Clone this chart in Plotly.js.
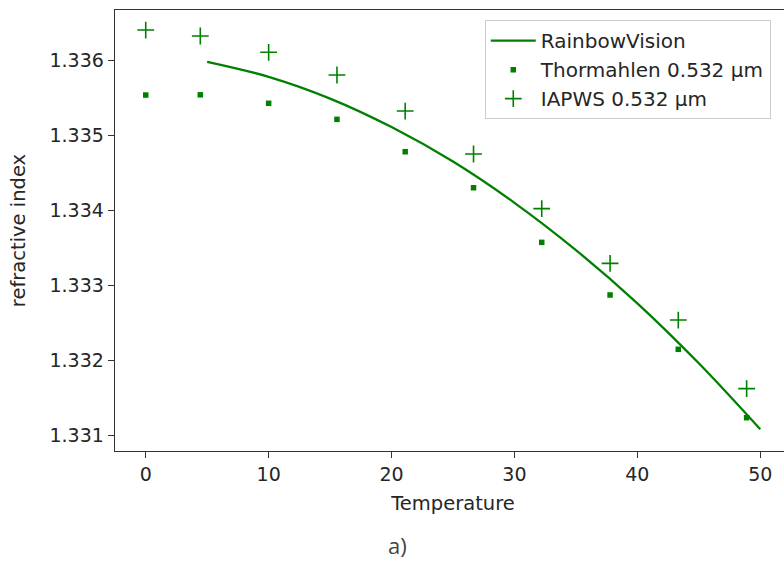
<!DOCTYPE html>
<html>
<head>
<meta charset="utf-8">
<script src="https://cdn.plot.ly/plotly-3.0.1.min.js"></script>
<style>
html, body { margin: 0; padding: 0; overflow: hidden; background: #fff; }
#chart { width: 800px; height: 561px; }
</style>
</head>
<body>
<div id="chart"></div>
<script>
// Temperatures (deg C)
const tempsData = [0, 4.44, 10, 15.56, 21.11, 26.67, 32.22, 37.78, 43.33, 48.89];
const thormahlen = [1.335537, 1.335540, 1.335427, 1.335213, 1.334781, 1.334301, 1.333573, 1.332871, 1.332147, 1.331235];
const iapws = [1.336404, 1.336324, 1.336107, 1.335804, 1.335324, 1.334751, 1.334023, 1.333293, 1.332537, 1.331623];
// RainbowVision curve, read at these temperatures
const tempsCurve = [5, 10, 15, 20, 25, 30, 35, 40, 45, 50];
const rainbow = [1.33598, 1.33578, 1.33549, 1.33511, 1.33465, 1.33410, 1.33347, 1.33276, 1.33196, 1.33108];
const yTicks = [1.331, 1.332, 1.333, 1.334, 1.335, 1.336];
const xTicks = [0, 10, 20, 30, 40, 50];

const green = '#008000';
const fontFam = '"DejaVu Sans", sans-serif';

const traces = [
  { x: tempsCurve, y: rainbow, type: 'scatter', mode: 'lines', name: 'RainbowVision',
    line: { color: green, width: 2.3, shape: 'spline' } },
  { x: tempsData, y: thormahlen, type: 'scatter', mode: 'markers', name: 'Thormahlen 0.532 µm',
    marker: { symbol: 'square', size: 5.5, color: green } },
  { x: tempsData, y: iapws, type: 'scatter', mode: 'markers', name: 'IAPWS 0.532 µm',
    marker: { symbol: 'cross-thin', size: 12, color: green, line: { color: green, width: 1.6 } } }
];

const layout = {
  width: 800, height: 561,
  margin: { l: 115, r: 9, t: 10, b: 110 },
  paper_bgcolor: '#fff', plot_bgcolor: '#fff',
  font: { family: fontFam, size: 19, color: '#262626' },
  showlegend: true,
  legend: {
    x: 0.547, y: 0.977, xanchor: 'left', yanchor: 'top',
    bgcolor: 'rgba(255,255,255,0.8)', bordercolor: '#cccccc', borderwidth: 1,
    font: { family: fontFam, size: 20, color: '#262626' },
    itemwidth: 45, tracegroupgap: 0
  },
  xaxis: {
    range: [-2.5, 52.5], tickvals: xTicks, ticktext: xTicks.map(String),
    showgrid: false, zeroline: false, showline: true, linecolor: '#333', linewidth: 1.3, mirror: true,
    ticks: 'outside', ticklen: 6, tickwidth: 1.3, tickcolor: '#333',
    tickfont: { family: fontFam, size: 19, color: '#262626' },
    title: { text: 'Temperature', font: { family: fontFam, size: 19.5, color: '#262626' }, standoff: 12 }
  },
  yaxis: {
    range: [1.330791, 1.336671], tickvals: yTicks, ticktext: yTicks.map(v => v.toFixed(3)),
    showgrid: false, zeroline: false, showline: true, linecolor: '#333', linewidth: 1.3, mirror: true,
    ticks: 'outside', ticklen: 6, tickwidth: 1.3, tickcolor: '#333',
    tickfont: { family: fontFam, size: 19, color: '#262626' },
    title: { text: 'refractive index', font: { family: fontFam, size: 19.5, color: '#262626' }, standoff: 18 }
  },
  annotations: [
    { text: 'a)', xref: 'paper', yref: 'paper', x: 0.4186, y: -0.214, xanchor: 'center', yanchor: 'middle',
      showarrow: false, borderpad: 0, font: { family: '"Open Sans", sans-serif', size: 22, color: '#444' } }
  ]
};

Plotly.newPlot('chart', traces, layout, { staticPlot: true, displayModeBar: false });
</script>
</body>
</html>
